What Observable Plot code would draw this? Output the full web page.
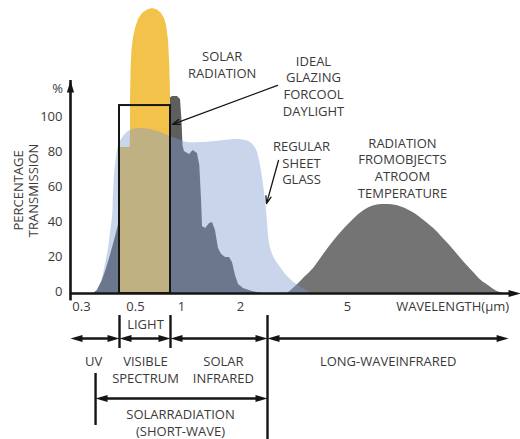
<!DOCTYPE html>
<html><head><meta charset="utf-8">
<script src="https://cdn.jsdelivr.net/npm/d3@7"></script>
<script src="https://cdn.jsdelivr.net/npm/@observablehq/plot@0.6"></script>
<style>body{margin:0;background:#fff;}</style>
</head><body><div id="chart"></div>
<script>
// wavelength (µm), percentage
const xTicks = [0.3, 0.5, 1, 2, 5];
const yTicks = [0, 20, 40, 60, 80, 100];
const xDomain = [0.25, 0.3, 0.4, 0.5, 0.78, 1, 2, 3, 5, 10, 30];

const solar = [[0.332,0],[0.342,1.7],[0.355,7.4],[0.366,14.3],[0.376,21.7],[0.387,30.3],[0.395,37.1],[0.4,41.7],[0.438,53.1],[0.469,64.6],[0.524,81.7],[0.62,96],[0.70,105.7],[0.748,110.3],[0.82,112.6],[0.92,112.6],[0.98,110.9],[1.008,98.9],[1.025,84.6],[1.05,81.1],[1.136,79.4],[1.2,81.7],[1.27,80],[1.31,73.1],[1.34,53.1],[1.356,38.3],[1.41,37.1],[1.475,40],[1.525,40.6],[1.576,36],[1.627,25.7],[1.68,22.3],[1.746,20.6],[1.814,20.6],[1.864,17.7],[1.915,10.3],[1.966,5.1],[2.11,2.9],[2.44,1.1],[2.81,0]];

const visible = [[0.4,83.4],[0.466,83.4],[0.469,93.1],[0.469,110.3],[0.472,127.4],[0.478,138.9],[0.4875,146.3],[0.5,151.4],[0.524,156.6],[0.556,160],[0.596,162],[0.636,162.9],[0.676,162],[0.708,160],[0.732,157.1],[0.748,153.1],[0.764,144.6],[0.774,130.3],[0.78,113.1]];

const glass = [[0.337,0],[0.347,3.4],[0.355,8.6],[0.363,16.6],[0.371,25.7],[0.376,34.3],[0.382,44.6],[0.384,56],[0.387,67.4],[0.392,77.7],[0.397,84],[0.4125,88],[0.425,89.7],[0.456,92.6],[0.494,94],[0.54,94.3],[0.62,93.7],[0.7,92],[0.78,89.7],[0.94,88],[1.1,86.3],[1.32,86.3],[1.576,86.9],[1.95,88],[2.185,87.4],[2.37,86.3],[2.52,84],[2.63,80.6],[2.74,73.1],[2.815,66.3],[2.89,57.7],[2.963,47.4],[3.0,40.6],[3.025,33.1],[3.075,25.7],[3.175,20],[3.325,14.9],[3.525,9.1],[3.725,5.1],[3.925,2.3],[4.125,0]];

const room = [[3.5,0],[3.7,4],[3.9,8.6],[4.15,14.3],[4.35,20.6],[4.55,26.9],[4.75,32.6],[4.95,37.7],[5.9,42.3],[7.1,46.3],[8.3,49.1],[9.5,50.6],[10.7,50.9],[11.9,50.6],[13.0,49.4],[14.1,47.4],[15.3,44.6],[16.4,41.1],[17.6,37.1],[18.7,32.6],[19.9,27.4],[21.0,22.3],[22.1,17.1],[23.3,12],[24.4,7.4],[25.6,4],[26.7,1.1],[27.6,0]];

const glazing = [{x1: 0.4, x2: 0.78, y1: 0, y2: 107.4}];

const labels = [
  {text: "SOLAR\nRADIATION", x: 1.69, y: 131.1},
  {text: "IDEAL\nGLAZING\nFORCOOL\nDAYLIGHT", x: 4.15, y: 119},
  {text: "REGULAR\nSHEET\nGLASS", x: 3.85, y: 75},
  {text: "RADIATION\nFROMOBJECTS\nATROOM\nTEMPERATURE", x: 13.14, y: 72.1},
  {text: "WAVELENGTH(µm)", x: 20.3, y: -6.9},
  {text: "%", x: 0.191, y: 117.7},
  {text: "LIGHT", x: 0.58, y: -17.1},
  {text: "UV", x: 0.332, y: -38.3},
  {text: "VISIBLE\nSPECTRUM", x: 0.58, y: -43.1},
  {text: "SOLAR\nINFRARED", x: 1.71, y: -43.1},
  {text: "LONG-WAVEINFRARED", x: 11.1, y: -38.3},
  {text: "SOLARRADIATION\n(SHORT-WAVE)", x: 0.98, y: -73.4}
];
const yTitle = [{text: "PERCENTAGE\nTRANSMISSION", x: 0.048, y: 58.9}];

const pointers = [
  {x1: 3.25, y1: 118.9, x2: 0.82, y2: 96.6},
  {x1: 3.275, y1: 76, x2: 2.963, y2: 51.4}
];

const bands = [
  {x1: 0.25, x2: 0.4, y: -25.7},
  {x1: 0.4, x2: 0.78, y: -25.7},
  {x1: 0.78, x2: 3, y: -25.7},
  {x1: 3, x2: 28.3, y: -25.7},
  {x1: 0.337, x2: 3, y: -60}
];
const bars = [
  {x: 0.4, y1: -12.6, y2: -31.4},
  {x: 0.78, y1: -12.6, y2: -31.4},
  {x: 3, y1: -12.6, y2: -84},
  {x: 0.337, y1: -45.7, y2: -75.4}
];
const yAxisEnd = 121.7;
const xAxisEnd = 30;

const head = {draw(ctx) { ctx.moveTo(0, 0); ctx.lineTo(3.6, 12); ctx.lineTo(-3.6, 12); ctx.closePath(); }};

const ink = "#151515";
const txt = "#3a3a3a";
const X = d => d[0], Y = d => d[1];

const chart = Plot.plot({
  width: 520,
  height: 439,
  marginTop: 0,
  marginLeft: 70,
  marginRight: 0,
  marginBottom: 146,
  style: {fontFamily: "'Open Sans', sans-serif", fontSize: "13px", background: "#fff", overflow: "visible"},
  x: {type: "linear", domain: xDomain, range: [70, 81, 119, 135, 170, 181, 240, 267, 347, 380, 520], axis: null},
  y: {domain: [0, 100], range: [293, 118], axis: null},
  marks: [
    Plot.areaY(room, {x: X, y1: 0, y2: Y, fill: "#747474", curve: "catmull-rom"}),
    Plot.areaY(solar, {x: X, y1: 0, y2: Y, fill: "#5e5e5e"}),
    Plot.areaY(visible, {x: X, y1: 0, y2: Y, fill: "#f2c24a"}),
    Plot.areaY(glass, {x: X, y1: 0, y2: Y, fill: "#7b9bd0", fillOpacity: 0.42, curve: "catmull-rom"}),
    Plot.rect(glazing, {x1: "x1", x2: "x2", y1: "y1", y2: "y2", fill: "none", stroke: ink, strokeWidth: 2}),
    // axes lines
    Plot.ruleX([0.25], {y1: -0.8, y2: yAxisEnd, stroke: ink, strokeWidth: 2.6, insetTop: 6}),
    Plot.ruleY([0], {x1: 0.25, x2: xAxisEnd, stroke: ink, strokeWidth: 2.4, insetRight: 6}),
    Plot.dot([[0.25, yAxisEnd]], {x: X, y: Y, symbol: head, rotate: 0, fill: ink, stroke: null}),
    Plot.dot([[xAxisEnd, 0]], {x: X, y: Y, symbol: head, rotate: 90, fill: ink, stroke: null}),
    Plot.axisY({ticks: yTicks, tickSize: 0, tickPadding: 8, fontSize: 13, color: txt, label: null, dy: -1.5}),
    Plot.axisX({ticks: xTicks, tickSize: 0, tickPadding: 8, fontSize: 13, color: txt, label: null, tickFormat: d => String(d)}),
    // bottom band annotations
    Plot.ruleX(bars, {x: "x", y1: "y1", y2: "y2", stroke: ink, strokeWidth: 2.4}),
    Plot.ruleY(bands, {y: "y", x1: "x1", x2: "x2", stroke: ink, strokeWidth: 2.4, insetLeft: 6, insetRight: 6}),
    Plot.dot(bands, {x: "x1", y: "y", symbol: head, rotate: -90, fill: ink, stroke: null}),
    Plot.dot(bands, {x: "x2", y: "y", symbol: head, rotate: 90, fill: ink, stroke: null}),
    // pointer arrows
    Plot.arrow(pointers, {x1: "x1", y1: "y1", x2: "x2", y2: "y2", stroke: ink, strokeWidth: 1.3, headLength: 9, headAngle: 40}),
    // labels
    Plot.text(labels, {x: "x", y: "y", text: "text", fontSize: 13, lineHeight: 1.28, fill: txt}),
    Plot.text(yTitle, {x: "x", y: "y", text: "text", fontSize: 13, lineHeight: 1.15, rotate: -90, fill: txt})
  ]
});
document.getElementById("chart").appendChild(chart);
</script>
</body></html>
